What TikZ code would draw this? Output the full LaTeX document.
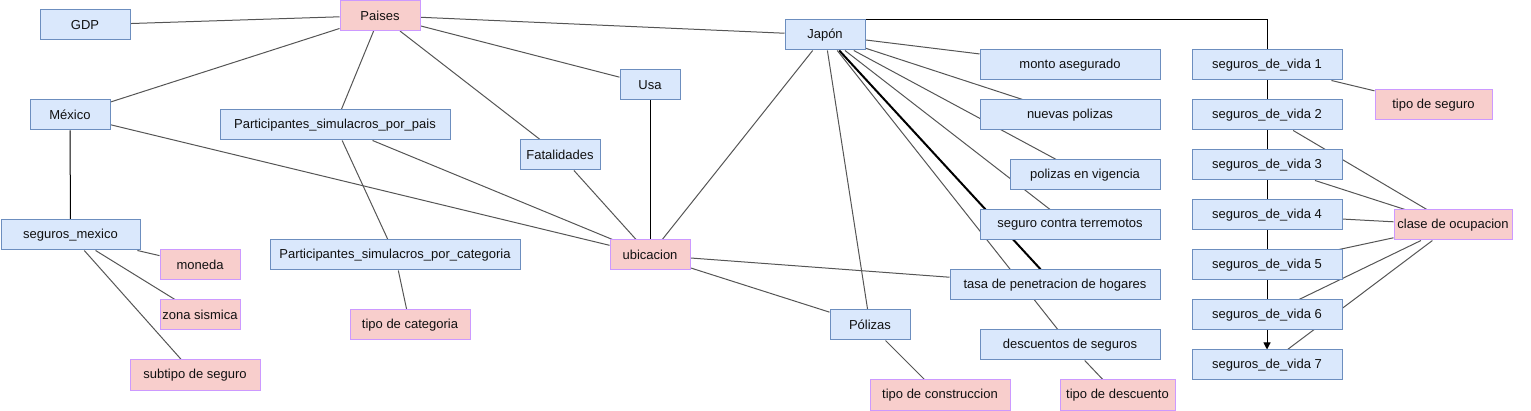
\documentclass[tikz,border=0pt]{standalone}
\usepackage{fontspec}
\setmainfont{Liberation Sans}
\usetikzlibrary{backgrounds,arrows.meta}
\definecolor{bfill}{HTML}{DAE8FC}
\definecolor{bdraw}{HTML}{6C8EBF}
\definecolor{pfill}{HTML}{F8CECC}
\definecolor{pdraw}{HTML}{CC99FF}
\definecolor{lgray}{HTML}{555555}
\definecolor{txt}{HTML}{111111}
\tikzset{
  box/.style={draw, line width=1pt, inner sep=0pt, minimum height=30pt,
    font=\fontsize{13}{15}\selectfont, text=txt},
  bluebox/.style={box, fill=bfill, draw=bdraw},
  pinkbox/.style={box, fill=pfill, draw=pdraw},
  link/.style={draw=lgray, line width=1pt},
  blink/.style={draw=black, line width=1pt},
}
\begin{document}
\begin{tikzpicture}[x=1pt,y=-1pt]
\useasboundingbox (0,0) rectangle (1531,411);
% nodes
\node[bluebox, minimum width=90pt] (gdp) at (85,25) {GDP};
\node[pinkbox, minimum width=80pt] (paises) at (380,15.5) {Paises};
\node[bluebox, minimum width=80pt] (mex) at (70,115) {México};
\node[bluebox, minimum width=230pt] (ppais) at (335,125) {Participantes\_simulacros\_por\_pais};
\node[bluebox, minimum width=60pt] (usa) at (650,85) {Usa};
\node[bluebox, minimum width=80pt] (fat) at (560,155) {Fatalidades};
\node[bluebox, minimum width=80pt] (jap) at (825,35) {Japón};
\node[bluebox, minimum width=139pt] (segmex) at (70.5,235) {seguros\_mexico};
\node[pinkbox, minimum width=80pt] (moneda) at (200,265) {moneda};
\node[pinkbox, minimum width=80pt] (zona) at (200,315) {zona sismica};
\node[pinkbox, minimum width=130pt] (subtipo) at (195,375) {subtipo de seguro};
\node[bluebox, minimum width=250pt] (pcat) at (395,255) {Participantes\_simulacros\_por\_categoria};
\node[pinkbox, minimum width=120pt] (tcat) at (410,325) {tipo de categoria};
\node[pinkbox, minimum width=80pt] (ubic) at (650,255) {ubicacion};
\node[bluebox, minimum width=80pt] (pol) at (870,325) {Pólizas};
\node[pinkbox, minimum width=140pt] (tconst) at (940,395) {tipo de construccion};
\node[pinkbox, minimum width=115pt] (tdesc) at (1117.5,395) {tipo de descuento};
\node[bluebox, minimum width=180pt] (desc) at (1070,345) {descuentos de seguros};
\node[bluebox, minimum width=210pt] (tasa) at (1055,285) {tasa de penetracion de hogares};
\node[bluebox, minimum width=180pt] (terr) at (1070,225) {seguro contra terremotos};
\node[bluebox, minimum width=150pt] (vig) at (1085,175) {polizas en vigencia};
\node[bluebox, minimum width=180pt] (nuevas) at (1070,115) {nuevas polizas};
\node[bluebox, minimum width=180pt] (monto) at (1070,65) {monto asegurado};
\foreach \i in {1,...,7}{
  \node[bluebox, minimum width=150pt] (sv\i) at (1267,{15+50*\i}) {seguros\_de\_vida \i};
}
\node[pinkbox, minimum width=117pt] (tseg) at (1433.5,105) {tipo de seguro};
\node[pinkbox, minimum width=118pt] (clase) at (1453,225) {clase de ocupacion};
% connectors
\begin{scope}[on background layer]
\draw[link] (gdp) -- (paises);
\draw[link] (paises) -- (mex);
\draw[link] (paises) -- (ppais);
\draw[link] (paises) -- (fat);
\draw[link] (paises) -- (usa);
\draw[link] (paises) -- (jap);
\draw[link] (jap) -- (ubic);
\draw[blink] (usa) -- (ubic);
\draw[link] (fat) -- (ubic);
\draw[link] (ppais) -- (ubic);
\draw[link] (ppais) -- (pcat);
\draw[link] (pcat) -- (tcat);
\draw[blink] (mex) -- (segmex);
\draw[link] (mex) -- (ubic);
\draw[link] (segmex) -- (moneda);
\draw[link] (segmex) -- (zona);
\draw[link] (segmex) -- (subtipo);
\draw[link] (ubic) -- (tasa);
\draw[link] (ubic) -- (pol);
\draw[link] (pol) -- (tconst);
\draw[link] (jap) -- (pol);
\draw[link] (jap) -- (monto);
\draw[link] (jap) -- (nuevas);
\draw[link] (jap) -- (vig);
\draw[link] (jap) -- (terr);
\draw[draw=black, line width=2pt] (jap) -- (tasa);
\draw[link] (jap) -- (desc);
\draw[link] (desc) -- (tdesc);
\draw[blink, -{Triangle[length=7pt,width=7pt]}] (jap.north east) -| (sv7.north);
\draw[link] (sv1) -- (tseg);
\foreach \i in {2,...,7}{
  \draw[link] (sv\i) -- (clase);
}
\end{scope}
\end{tikzpicture}
\end{document}
